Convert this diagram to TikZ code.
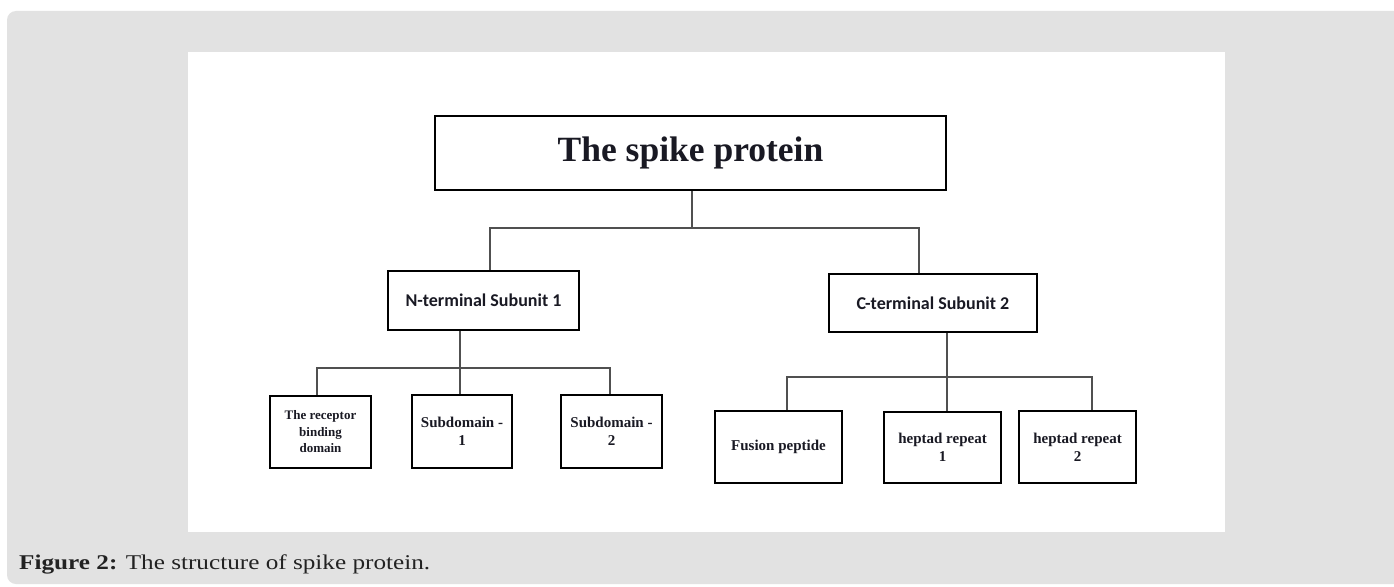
\documentclass[tikz,border=0pt]{standalone}
\usepackage{fontspec}
\setmainfont{Liberation Serif}
\newfontfamily\carlito{Carlito}
\definecolor{panelgray}{RGB}{226,226,226}
\definecolor{conngray}{RGB}{80,80,80}
\definecolor{txt}{RGB}{25,25,35}
\definecolor{captxt}{RGB}{34,34,34}
\begin{document}
\begin{tikzpicture}[x=1pt,y=-1pt,
  box/.style={draw=black, line width=2.6pt, fill=white, inner sep=0pt, align=center, text=txt},
  conn/.style={draw=conngray, line width=1.8pt},
  serifbig/.style={font=\bfseries\fontsize{35.5}{40}\selectfont},
  sansmid/.style={font=\carlito\bfseries\fontsize{18}{22}\selectfont},
  serifsmall/.style={font=\bfseries\fontsize{15}{18}\selectfont},
  seriftiny/.style={font=\bfseries\fontsize{13}{16.5}\selectfont}]
\useasboundingbox (0,0) rectangle (1394,586);
\clip (0,0) rectangle (1394,586);
\fill[white] (0,0) rectangle (1394,586);
\fill[panelgray, rounded corners=9pt] (7,11) rectangle (1420,584);
\fill[white] (188,52) rectangle (1225,532);

% nodes
\node[box, serifbig, minimum width=511, minimum height=74] (top) at (690.5,153) {The spike protein};
\node[box, sansmid, minimum width=191, minimum height=59] (N) at (483.5,300.5) {N-terminal Subunit 1};
\node[box, sansmid, minimum width=208, minimum height=58] (C) at (933,303) {C-terminal Subunit 2};
\node[box, seriftiny, minimum width=101, minimum height=72] (R) at (320.5,432) {The receptor\\binding\\domain};
\node[box, serifsmall, minimum width=100, minimum height=73] (S1) at (462,431.5) {Subdomain -\\1};
\node[box, serifsmall, minimum width=101, minimum height=73] (S2) at (611.5,431.5) {Subdomain -\\2};
\node[box, serifsmall, minimum width=127, minimum height=72] (F) at (778.5,447) {Fusion peptide};
\node[box, serifsmall, minimum width=117, minimum height=71] (H1) at (942.5,447.5) {heptad repeat\\1};
\node[box, serifsmall, minimum width=117, minimum height=72] (H2) at (1077.5,447) {heptad repeat\\2};

% junction coordinates
\coordinate (j1) at (692,228);
\coordinate (jNx) at (490,0);
\coordinate (jCx) at (919,0);
\coordinate (k1) at (460,368);
\coordinate (kR) at (317,368);
\coordinate (kS2) at (610,368);
\coordinate (m1) at (947,377);
\coordinate (mF) at (787,377);
\coordinate (mH2) at (1092,377);

% connectors
\draw[conn] (top.south -| j1) -- (j1);
\draw[conn] (N.north -| jNx) |- (j1) -| (C.north -| jCx);
\draw[conn] (N.south -| k1) -- (S1.north -| k1);
\draw[conn] (R.north -| kR) |- (k1) -| (S2.north -| kS2);
\draw[conn] (C.south -| m1) -- (H1.north -| m1);
\draw[conn] (F.north -| mF) |- (m1) -| (H2.north -| mH2);

% caption
\node[anchor=base west, inner sep=0pt, text=captxt, font=\fontsize{21}{25}\selectfont] (cap) at (19,569) {\scalebox{1.2}[1]{\textbf{Figure 2:} The structure of spike protein.}};
\end{tikzpicture}
\end{document}
